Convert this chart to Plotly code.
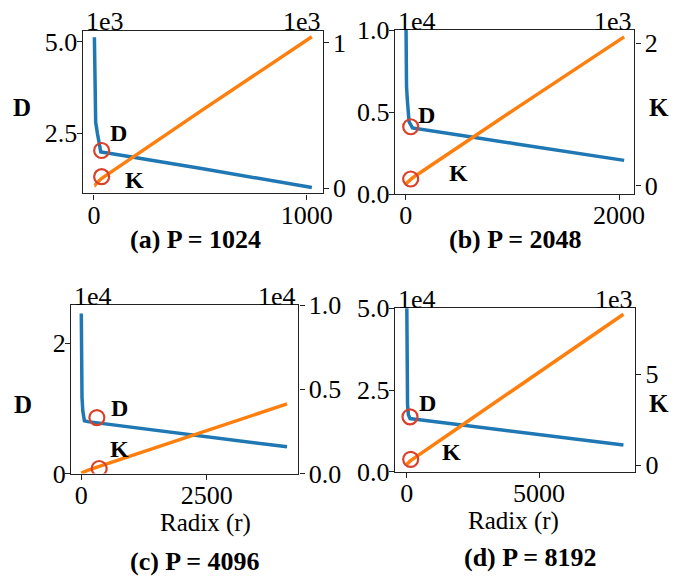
import plotly.graph_objects as go

# ---------------- data ----------------
P_values = [1024, 2048, 4096, 8192]
panel_titles = ["(a) P = 1024", "(b) P = 2048", "(c) P = 4096", "(d) P = 8192"]

radix_a = [2, 4, 8, 16, 32, 64, 128, 256, 512, 1024]
D_a = [5120, 3840, 2800, 2500, 1990, 1960, 1900, 1780, 1530, 1020]
K_a = [20, 20, 27, 40, 64, 96, 160, 288, 540, 1040]

radix_b = [2, 4, 8, 16, 32, 64, 128, 256, 512, 1024, 2048]
D_b = [11260, 8450, 6570, 5700, 4400, 4030, 3970, 3840, 3580, 3070, 2050]
K_b = [22, 22, 29, 44, 70, 110, 175, 305, 560, 1075, 2090]

radix_c = [2, 4, 8, 16, 32, 64, 128, 256, 512, 1024, 2048, 4096]
D_c = [24600, 18400, 14300, 11700, 9600, 8100, 7970, 7840, 7580, 7070, 6050, 4100]
K_c = [24, 24, 32, 48, 77, 128, 190, 320, 575, 1090, 2110, 4130]

radix_d = [2, 4, 8, 16, 32, 64, 128, 256, 512, 1024, 2048, 4096, 8192]
D_d = [53000, 40000, 31000, 24500, 20500, 17400, 16250, 16100, 15850, 15350, 14300, 12300, 8200]
K_d = [26, 26, 35, 52, 83, 140, 220, 350, 600, 1110, 2140, 4190, 8280]

# highlighted points (red circles): (radix, value)
circle_D = [(36, 2030), (47, 4100), (312, 8600), (125, 16800)]
circle_K = [(36, 80), (47, 94), (358, 297), (151, 310)]

# axis scale factors (offset texts) and tick labels
D_scale = [1e3, 1e4, 1e4, 1e4]
K_scale = [1e3, 1e3, 1e4, 1e3]
D_scale_txt = ["1e3", "1e4", "1e4", "1e4"]
K_scale_txt = ["1e3", "1e3", "1e4", "1e3"]
x_ticks = [[0, 1000], [0, 2000], [0, 2500], [0, 5000]]
D_ticks = [[2.5, 5.0], [0.0, 0.5, 1.0], [0, 2], [0.0, 2.5, 5.0]]
K_ticks = [[0, 1], [0, 2], [0.0, 0.5, 1.0], [0, 5]]
D_fmt = [".1f", ".1f", "d", ".1f"]
K_fmt = ["d", "d", ".1f", "d"]

# ---------------- layout geometry ----------------
W, H = 694, 578
frames = [  # left, right, top, bottom (px)
    (82.7, 322.7, 30.7, 193.3),
    (395.0, 634.3, 30.0, 194.0),
    (71.2, 298.3, 305.0, 473.5),
    (395.0, 635.0, 308.3, 471.7),
]
x_ranges = [[-53, 1075], [-100, 2143], [-199, 4320], [-442, 8628]]
D_ranges = [[0.862, 5.30], [0.0, 1.0], [0.0, 2.59], [0.0, 5.0]]
K_ranges = [[-0.034, 1.082], [-0.117, 2.187], [0.0, 1.0], [-0.368, 8.61]]

series = [(radix_a, D_a, K_a), (radix_b, D_b, K_b), (radix_c, D_c, K_c), (radix_d, D_d, K_d)]

BLUE = "#1f77b4"
ORANGE = "#ff7f0e"
RED = "#d9412b"
AX = "#222222"
FONT = "Liberation Serif"
TICK_SIZE = 26

fig = go.Figure()
layout = dict(
    width=W, height=H, margin=dict(l=0, r=0, t=0, b=0),
    paper_bgcolor="white", plot_bgcolor="white", showlegend=False,
    font=dict(family=FONT, size=TICK_SIZE, color="black"),
    template="none",
)

def px(x):
    return x / W

def py(y):
    return 1 - y / H

annotations = []
for i in range(4):
    l, r, t, b = frames[i]
    xn = "x" if i == 0 else f"x{i+1}"
    yl = "y" if i == 0 else f"y{2*i+1}"
    yr = f"y{2*i+2}"
    rx, D, K = series[i]
    fig.add_trace(go.Scatter(x=rx, y=[v / D_scale[i] for v in D], mode="lines",
                             line=dict(color=BLUE, width=3.5), xaxis=xn, yaxis=yl))
    fig.add_trace(go.Scatter(x=rx, y=[v / K_scale[i] for v in K], mode="lines",
                             line=dict(color=ORANGE, width=3.5), xaxis=xn, yaxis=yr))
    fig.add_trace(go.Scatter(x=[circle_K[i][0]], y=[circle_K[i][1] / K_scale[i]], mode="markers",
                             marker=dict(symbol="circle-open", size=15, color=RED, line=dict(width=2.2, color=RED)),
                             xaxis=xn, yaxis=yr))
    fig.add_trace(go.Scatter(x=[circle_D[i][0]], y=[circle_D[i][1] / D_scale[i]], mode="markers",
                             marker=dict(symbol="circle-open", size=15, color=RED, line=dict(width=2.2, color=RED)),
                             xaxis=xn, yaxis=yl))

    common = dict(showline=True, linecolor=AX, linewidth=1.4, ticks="outside", ticklen=5,
                  tickwidth=1.4, tickcolor=AX, showgrid=False, zeroline=False,
                  tickfont=dict(family=FONT, size=TICK_SIZE, color="black"), automargin=False)
    xkey = "xaxis" if i == 0 else f"xaxis{i+1}"
    ylkey = "yaxis" if i == 0 else f"yaxis{2*i+1}"
    yrkey = f"yaxis{2*i+2}"
    layout[xkey] = dict(common, domain=[px(l), px(r)], anchor=yl, range=x_ranges[i],
                        tickmode="array", tickvals=x_ticks[i], mirror=True, ticklabelstandoff=-7)
    layout[ylkey] = dict(common, domain=[py(b), py(t)], anchor=xn, range=D_ranges[i],
                         tickmode="array", tickvals=D_ticks[i], tickformat=D_fmt[i], side="left",
                         ticklabelstandoff=-6)
    layout[yrkey] = dict(common, anchor=xn, overlaying=yl, range=K_ranges[i],
                         tickmode="array", tickvals=K_ticks[i], tickformat=K_fmt[i], side="right",
                         ticklabelstandoff=-1)

    # offset texts
    annotations.append(dict(text=D_scale_txt[i], x=px(l + 1), y=py(t - 9), xref="paper", yref="paper",
                            xanchor="left", yanchor="middle", showarrow=False,
                            font=dict(family=FONT, size=TICK_SIZE, color="black")))
    annotations.append(dict(text=K_scale_txt[i], x=px(r), y=py(t - 9), xref="paper", yref="paper",
                            xanchor="right", yanchor="middle", showarrow=False,
                            font=dict(family=FONT, size=TICK_SIZE, color="black")))

# panel titles
title_pos = [(195.5, 239), (515, 239), (195, 561), (530.5, 557)]
for (tx, ty), txt in zip(title_pos, panel_titles):
    annotations.append(dict(text=f"<b>{txt}</b>", x=px(tx), y=py(ty), xref="paper", yref="paper",
                            xanchor="center", yanchor="middle", showarrow=False,
                            font=dict(family=FONT, size=26, color="black")))

# x axis titles
for tx, ty in [(205, 523), (513, 521)]:
    annotations.append(dict(text="Radix (r)", x=px(tx), y=py(ty), xref="paper", yref="paper",
                            xanchor="center", yanchor="middle", showarrow=False,
                            font=dict(family=FONT, size=25, color="black")))

# side labels (D / K)
side_labels = [("D", 21.7, 107.5), ("D", 22.5, 404), ("K", 659, 107), ("K", 659, 403)]
for txt, tx, ty in side_labels:
    annotations.append(dict(text=f"<b>{txt}</b>", x=px(tx), y=py(ty), xref="paper", yref="paper",
                            xanchor="center", yanchor="middle", showarrow=False,
                            font=dict(family=FONT, size=25, color="black")))

# in-plot labels near circles
inplot = [("D", 118, 133), ("K", 134, 180), ("D", 426.5, 115), ("K", 458, 172.5),
          ("D", 119, 407.5), ("K", 119, 449), ("D", 427.5, 402.5), ("K", 451.7, 452.5)]
for txt, tx, ty in inplot:
    annotations.append(dict(text=f"<b>{txt}</b>", x=px(tx), y=py(ty), xref="paper", yref="paper",
                            xanchor="center", yanchor="middle", showarrow=False,
                            font=dict(family=FONT, size=24, color="black")))

layout["annotations"] = annotations
fig.update_layout(**layout)
fig.write_html("out.html", config={"displayModeBar": False},
               post_script="document.body.style.margin='0px';document.body.style.padding='0px';")
